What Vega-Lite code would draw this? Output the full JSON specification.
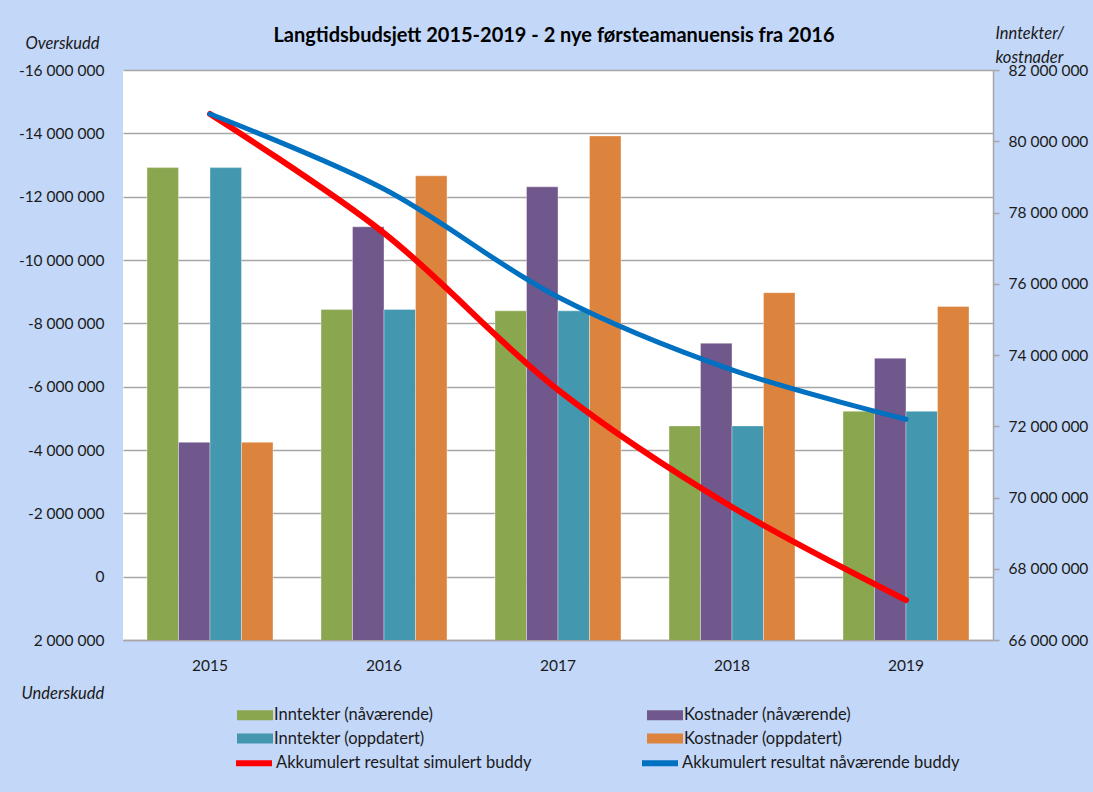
{
  "$schema": "https://vega.github.io/schema/vega-lite/v6.json",
  "width": 870,
  "height": 570,
  "autosize": {"type": "none"},
  "padding": {"left": 123, "top": 70, "right": 100, "bottom": 152},
  "background": "#c3d7f8",
  "title": {
    "text": "Langtidsbudsjett 2015-2019 - 2 nye førsteamanuensis fra 2016",
    "frame": "group",
    "anchor": "middle",
    "font": "Lato",
    "fontSize": 20,
    "fontWeight": "bold",
    "color": "#000000",
    "baseline": "alphabetic",
    "offset": -37,
    "dx": -4
  },
  "config": {
    "locale": {"number": {"decimal": ",", "thousands": " ", "grouping": [3], "currency": ["", " kr"], "minus": "-"}},
    "view": {"fill": "#ffffff", "stroke": null},
    "font": "Lato",
    "axis": {
      "labelFont": "Lato",
      "labelFontSize": 15.5,
      "labelColor": "#1a1a1a",
      "titleFont": "Lato",
      "titleFontSize": 16.5,
      "titleFontStyle": "italic",
      "titleFontWeight": "normal",
      "titleColor": "#1a1a1a"
    }
  },
  "datasets": {
    "stolper": [
      {"aar": "2015", "serie": "Inntekter (nåværende)", "verdi": 79260000},
      {"aar": "2015", "serie": "Kostnader (nåværende)", "verdi": 71550000},
      {"aar": "2015", "serie": "Inntekter (oppdatert)", "verdi": 79260000},
      {"aar": "2015", "serie": "Kostnader (oppdatert)", "verdi": 71550000},
      {"aar": "2016", "serie": "Inntekter (nåværende)", "verdi": 75280000},
      {"aar": "2016", "serie": "Kostnader (nåværende)", "verdi": 77600000},
      {"aar": "2016", "serie": "Inntekter (oppdatert)", "verdi": 75280000},
      {"aar": "2016", "serie": "Kostnader (oppdatert)", "verdi": 79030000},
      {"aar": "2017", "serie": "Inntekter (nåværende)", "verdi": 75240000},
      {"aar": "2017", "serie": "Kostnader (nåværende)", "verdi": 78720000},
      {"aar": "2017", "serie": "Inntekter (oppdatert)", "verdi": 75240000},
      {"aar": "2017", "serie": "Kostnader (oppdatert)", "verdi": 80150000},
      {"aar": "2018", "serie": "Inntekter (nåværende)", "verdi": 72010000},
      {"aar": "2018", "serie": "Kostnader (nåværende)", "verdi": 74330000},
      {"aar": "2018", "serie": "Inntekter (oppdatert)", "verdi": 72010000},
      {"aar": "2018", "serie": "Kostnader (oppdatert)", "verdi": 75750000},
      {"aar": "2019", "serie": "Inntekter (nåværende)", "verdi": 72420000},
      {"aar": "2019", "serie": "Kostnader (nåværende)", "verdi": 73910000},
      {"aar": "2019", "serie": "Inntekter (oppdatert)", "verdi": 72420000},
      {"aar": "2019", "serie": "Kostnader (oppdatert)", "verdi": 75360000}
    ],
    "linjer": [
      {"aar": "2015", "serie": "Akkumulert resultat simulert buddy", "verdi": -14610000},
      {"aar": "2016", "serie": "Akkumulert resultat simulert buddy", "verdi": -10850000},
      {"aar": "2017", "serie": "Akkumulert resultat simulert buddy", "verdi": -5900000},
      {"aar": "2018", "serie": "Akkumulert resultat simulert buddy", "verdi": -2200000},
      {"aar": "2019", "serie": "Akkumulert resultat simulert buddy", "verdi": 740000},
      {"aar": "2015", "serie": "Akkumulert resultat nåværende buddy", "verdi": -14610000},
      {"aar": "2016", "serie": "Akkumulert resultat nåværende buddy", "verdi": -12240000},
      {"aar": "2017", "serie": "Akkumulert resultat nåværende buddy", "verdi": -8830000},
      {"aar": "2018", "serie": "Akkumulert resultat nåværende buddy", "verdi": -6530000},
      {"aar": "2019", "serie": "Akkumulert resultat nåværende buddy", "verdi": -4970000}
    ]
  },
  "layer": [
    {
      "data": {"name": "stolper"},
      "mark": {"type": "bar", "clip": true, "stroke": "#ffffff", "strokeWidth": 1, "strokeOpacity": 0.35},
      "encoding": {
        "x": {
          "field": "aar",
          "type": "nominal",
          "scale": {"paddingInner": 0, "paddingOuter": 0},
          "axis": {
            "title": "Underskudd",
            "titleX": -102,
            "titleY": 58,
            "titleAlign": "left",
            "titleAngle": 0,
            "titleBaseline": "alphabetic",
            "labelAngle": 0,
            "labelPadding": 18,
            "ticks": false,
            "tickSize": 0,
            "grid": false,
            "domain": true,
            "domainColor": "#a6a6a6",
            "domainWidth": 1.5
          }
        },
        "xOffset": {
          "field": "serie",
          "type": "nominal",
          "scale": {
            "domain": ["Inntekter (nåværende)", "Kostnader (nåværende)", "Inntekter (oppdatert)", "Kostnader (oppdatert)"],
            "paddingInner": 0,
            "paddingOuter": 0.762
          }
        },
        "y": {
          "field": "verdi",
          "type": "quantitative",
          "scale": {"domain": [66000000, 82000000], "nice": false, "zero": false},
          "axis": {
            "orient": "right",
            "values": [66000000, 68000000, 70000000, 72000000, 74000000, 76000000, 78000000, 80000000, 82000000],
            "format": ",.0f",
            "grid": false,
            "domain": true,
            "domainColor": "#a6a6a6",
            "domainWidth": 1.5,
            "ticks": true,
            "tickSize": 6,
            "tickColor": "#a6a6a6",
            "tickWidth": 1.5,
            "labelPadding": 9,
            "title": ["Inntekter/", "kostnader"],
            "titleAngle": 0,
            "titleAlign": "left",
            "titleBaseline": "alphabetic",
            "titleX": 2,
            "titleY": -32,
            "titleLineHeight": 24
          }
        },
        "color": {
          "field": "serie",
          "type": "nominal",
          "scale": {
            "domain": ["Inntekter (nåværende)", "Kostnader (nåværende)", "Inntekter (oppdatert)", "Kostnader (oppdatert)"],
            "range": ["#8aa64f", "#70588c", "#4398af", "#dc843d"]
          },
          "legend": {
            "orient": "none",
            "legendX": 114,
            "legendY": 637,
            "direction": "horizontal",
            "columns": 2,
            "title": null,
            "padding": 0,
            "symbolType": "M-1,-0.28H1V0.28H-1Z",
            "symbolSize": 1296,
            "symbolStrokeWidth": 0,
            "symbolOpacity": 1,
            "clipHeight": 16,
            "rowPadding": 6.5,
            "columnPadding": 213,
            "labelOffset": 1,
            "labelFont": "Lato",
            "labelFontSize": 16.5,
            "labelColor": "#1a1a1a",
            "labelLimit": 400
          }
        }
      }
    },
    {
      "data": {"name": "linjer"},
      "layer": [
        {
          "transform": [{"filter": "datum.serie == 'Akkumulert resultat simulert buddy'"}],
          "mark": {"type": "line", "interpolate": "catmull-rom", "strokeCap": "round", "strokeJoin": "round", "strokeWidth": 6},
          "encoding": {
            "x": {"field": "aar", "type": "nominal"},
            "y": {
              "field": "verdi",
              "type": "quantitative",
              "scale": {"domain": [-16000000, 2000000], "reverse": true, "nice": false, "zero": false},
              "axis": {
                "orient": "left",
                "values": [-16000000, -14000000, -12000000, -10000000, -8000000, -6000000, -4000000, -2000000, 0, 2000000],
                "format": ",.0f",
                "grid": true,
                "gridColor": "#a6a6a6",
                "gridWidth": 1.5,
                "domain": false,
                "ticks": false,
                "tickSize": 0,
                "labelPadding": 19,
                "title": "Overskudd",
                "titleAngle": 0,
                "titleAlign": "left",
                "titleBaseline": "alphabetic",
                "titleX": -98,
                "titleY": -22
              }
            },
            "stroke": {
              "field": "serie",
              "type": "nominal",
              "scale": {
                "domain": ["Akkumulert resultat simulert buddy", "Akkumulert resultat nåværende buddy"],
                "range": ["#ff0000", "#0070c0"]
              },
              "legend": {
                "orient": "none",
                "legendX": 110,
                "legendY": 685,
                "direction": "horizontal",
                "columns": 2,
                "title": null,
                "padding": 0,
                "symbolType": "stroke",
                "symbolSize": 1296,
                "symbolStrokeWidth": 6,
                "symbolOpacity": 1,
                "clipHeight": 16,
                "rowPadding": 6.5,
                "columnPadding": 107,
                "labelOffset": 1,
                "labelFont": "Lato",
                "labelFontSize": 16.5,
                "labelColor": "#1a1a1a",
                "labelLimit": 400
              }
            }
          }
        },
        {
          "transform": [{"filter": "datum.serie == 'Akkumulert resultat nåværende buddy'"}],
          "mark": {"type": "line", "interpolate": "catmull-rom", "strokeCap": "round", "strokeJoin": "round", "strokeWidth": 5},
          "encoding": {
            "x": {"field": "aar", "type": "nominal"},
            "y": {"field": "verdi", "type": "quantitative"},
            "stroke": {"field": "serie", "type": "nominal"}
          }
        }
      ]
    }
  ],
  "resolve": {"scale": {"y": "independent"}}
}
